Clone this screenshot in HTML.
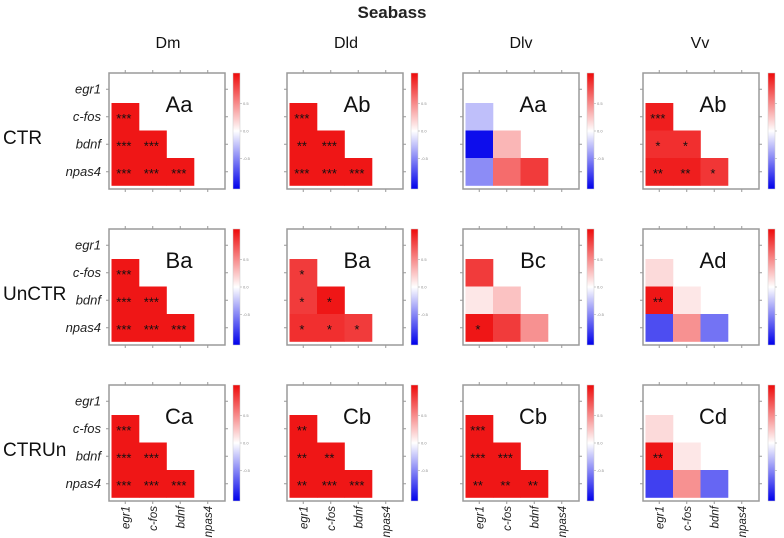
<!DOCTYPE html>
<html><head><meta charset="utf-8">
<style>
html,body{margin:0;padding:0;background:#fff;width:784px;height:538px;overflow:hidden}
svg{display:block;font-family:"Liberation Sans",sans-serif}
</style></head>
<body>
<svg id="chart" width="784" height="538" viewBox="0 0 784 538"></svg>
<script>
const genes = ["egr1","c-fos","bdnf","npas4"];
const regions = ["Dm","Dld","Dlv","Vv"];
const groups = ["CTR","UnCTR","CTRUn"];
const valsCTR = [
 [0.95,0.95,0.95,0.95,0.95,0.95],
 [0.95,0.95,0.95,0.95,0.95,0.95],
 [-0.25,-0.95,0.3,-0.45,0.6,0.8],
 [0.92,0.85,0.85,0.92,0.92,0.82]
];
const valsUnCTR = [
 [0.95,0.95,0.95,0.95,0.95,0.95],
 [0.8,0.8,0.95,0.85,0.85,0.8],
 [0.8,0.1,0.25,0.95,0.8,0.45],
 [0.15,0.95,0.1,-0.7,0.45,-0.55]
];
const valsCTRUn = [
 [0.95,0.95,0.95,0.95,0.95,0.95],
 [0.95,0.95,0.95,0.95,0.95,0.95],
 [0.95,0.95,0.95,0.95,0.95,0.95],
 [0.15,0.95,0.1,-0.75,0.45,-0.6]
];
const starsCTR = [
 ["***","***","***","***","***","***"],
 ["***","**","***","***","***","***"],
 ["","","","","",""],
 ["***","*","*","**","**","*"]
];
const starsUnCTR = [
 ["***","***","***","***","***","***"],
 ["*","*","*","*","*","*"],
 ["","","","*","",""],
 ["","**","","","",""]
];
const starsCTRUn = [
 ["***","***","***","***","***","***"],
 ["**","**","**","**","***","***"],
 ["***","***","***","**","**","**"],
 ["","**","","","",""]
];
const panelLetters = [["Aa","Ab","Aa","Ab"],["Ba","Ba","Bc","Ad"],["Ca","Cb","Cb","Cd"]];
const allVals=[valsCTR,valsUnCTR,valsCTRUn];
const allStars=[starsCTR,starsUnCTR,starsCTRUn];

const NS="http://www.w3.org/2000/svg";
const svg=document.getElementById('chart');
function mk(tag,attrs,parent){const e=document.createElementNS(NS,tag);for(const k in attrs)e.setAttribute(k,attrs[k]);(parent||svg).appendChild(e);return e;}
function color(v){
  v=Math.max(-1,Math.min(1,v));
  let r,g,b;
  if(v>=0){r=255+(238-255)*v;g=255*(1-v)+10*v;b=255*(1-v)+10*v;}
  else{const t=-v;r=255*(1-t);g=255*(1-t);b=255+(235-255)*t;}
  return `rgb(${Math.round(r)},${Math.round(g)},${Math.round(b)})`;
}
const colX=[109,287,463,643], rowY=[73,229,385], BOX=116, CELL=27.5, OFF=2.5;
const cellIdx=[[1,0],[2,0],[2,1],[3,0],[3,1],[3,2]];

let t=mk('text',{x:392,y:18,'text-anchor':'middle','font-size':17,'font-weight':'bold',fill:'#222'});
t.textContent="Seabass";

const hx=[168,346,521,700];
regions.forEach((r,i)=>{const e=mk('text',{x:hx[i],y:48,'text-anchor':'middle','font-size':16,fill:'#111'});e.textContent=r;

});
groups.forEach((g,i)=>{const e=mk('text',{x:3,y:rowY[i]+BOX/2+13,'font-size':19,fill:'#111'});e.textContent=g;

});

const defs=mk('defs',{});
const grad=mk('linearGradient',{id:'cb',x1:0,y1:1,x2:0,y2:0},defs);
for(let i=0;i<=20;i++){const v=-1+i*0.1;mk('stop',{offset:(i/20),'stop-color':color(v)},grad);}

for(let ri=0;ri<3;ri++){
 for(let ci=0;ci<4;ci++){
  const x0=colX[ci],y0=rowY[ri];
  const g=mk('g',{});
  
  
  mk('rect',{x:x0,y:y0,width:BOX,height:BOX,fill:'#fff',stroke:'#9a9a9a','stroke-width':1.5},g);
  const vals=allVals[ri][ci], st=allStars[ri][ci];
  vals.forEach((v,k)=>{
   const [r,c]=cellIdx[k];
   const cx=x0+OFF+c*CELL, cy=y0+OFF+r*CELL;
   const rc=mk('rect',{x:cx,y:cy,width:CELL+0.3,height:CELL+0.3,fill:color(v)},g);
   
   
   if(st[k]){const s=mk('text',{x:cx+CELL*0.45,y:cy+CELL/2+6,'text-anchor':'middle','font-size':13,fill:'#111'},g);s.textContent=st[k];
    
    }
  });
  for(let k=0;k<4;k++){
   const p=OFF+k*CELL+CELL/2;
   mk('line',{x1:x0+p,y1:y0-3,x2:x0+p,y2:y0,stroke:'#999'},g);
   mk('line',{x1:x0+p,y1:y0+BOX,x2:x0+p,y2:y0+BOX+3,stroke:'#999'},g);
   mk('line',{x1:x0-3,y1:y0+p,x2:x0,y2:y0+p,stroke:'#999'},g);
   mk('line',{x1:x0+BOX,y1:y0+p,x2:x0+BOX+3,y2:y0+p,stroke:'#999'},g);
  }
  const L=mk('text',{x:x0+70,y:y0+39,'text-anchor':'middle','font-size':22,fill:'#111'},g);L.textContent=panelLetters[ri][ci];
  
  
  if(ci===0){genes.forEach((gn,k)=>{const e=mk('text',{x:x0-8,y:y0+OFF+k*CELL+CELL/2+4,'text-anchor':'end','font-size':13,'font-style':'italic',fill:'#222'},g);e.textContent=gn;
   
   });}
  if(ri===2){genes.forEach((gn,k)=>{const px=x0+OFF+k*CELL+CELL/2+4,py=y0+BOX+5;
   const e=mk('text',{x:px,y:py,'text-anchor':'end','font-size':11.5,'font-style':'italic',fill:'#222',transform:`rotate(-90 ${px} ${py})`},g);e.textContent=gn;
   
   });}
  const bx=[233,411,587,768][ci];
  const cb=mk('rect',{x:bx,y:y0,width:7,height:BOX,fill:'url(#cb)',stroke:'#ccc','stroke-width':0.5},g);
  
  
  [0.5,0,-0.5].forEach(v=>{const yy=y0+BOX/2-v*BOX/2*0.95;
   mk('line',{x1:bx+7,y1:yy,x2:bx+9,y2:yy,stroke:'#999','stroke-width':0.5},g);
   if(ci<3){const e=mk('text',{x:bx+10,y:yy+1.5,'font-size':4,fill:'#888'},g);e.textContent=v.toFixed(1);}});
 }
}
</script>
</body></html>
